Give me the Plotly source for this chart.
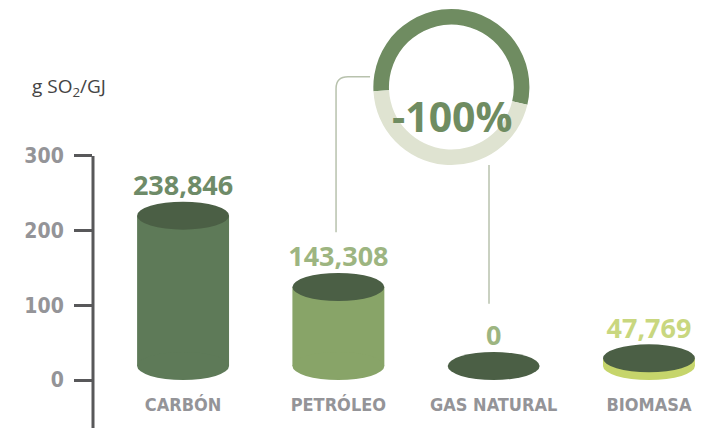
import plotly.graph_objects as go

# data
categories = ["CARBÓN", "PETRÓLEO", "GAS NATURAL", "BIOMASA"]
values = [238.846, 143.308, 0.0, 47.769]
value_labels = ["238,846", "143,308", "0", "47,769"]
y_ticks = [0, 100, 200, 300]
ring_values = [54.5, 45.5]
ring_label = "-100%"
unit_label = "g SO<sub>2</sub>/GJ"

BODY = ["#5e7a58", "#88a468", "#88a468", "#c6d56b"]
TOP = "#4b5f45"
LABEL_COL = ["#6e8b68", "#9db581", "#9db581", "#c9d77f"]
GRAY = "#949498"
AXIS = "#58585a"
NARROW = "DejaVu Sans Condensed, DejaVu Sans, sans-serif"
BOLD = "Open Sans, sans-serif"

RX = 0.296  # half width of cylinder, category units
RY = 18.75  # half height of the ellipse caps, y units
Y_RANGE = [-64.29, 498.2]

fig = go.Figure()

shapes = []
label_y = []
for i, v in enumerate(values):
    yb = RY
    yt = max(v - RY, RY)
    if yt > yb:
        shapes.append(dict(type="rect", xref="x", yref="y", x0=i - RX, x1=i + RX,
                           y0=yb, y1=yt, fillcolor=BODY[i], line_width=0, layer="below"))
        shapes.append(dict(type="circle", xref="x", yref="y", x0=i - RX, x1=i + RX,
                           y0=yb - RY, y1=yb + RY, fillcolor=BODY[i], line_width=0, layer="below"))
    shapes.append(dict(type="circle", xref="x", yref="y", x0=i - RX, x1=i + RX,
                       y0=yt - RY, y1=yt + RY, fillcolor=TOP, line_width=0, layer="below"))
    label_y.append(yt + RY)

# y axis line
shapes.append(dict(type="line", xref="paper", yref="y", x0=0, x1=0, y0=300, y1=Y_RANGE[0],
                   line=dict(color=AXIS, width=3)))
# connector lines to the ring
shapes.append(dict(type="path", xref="x", yref="y",
                   path="M 0.985,198 L 0.985,390 Q 0.985,406 1.062,406 L 1.204,406",
                   line=dict(color="#b8c2ad", width=1.5)))
shapes.append(dict(type="line", xref="x", yref="y", x0=1.97, x1=1.97, y0=288, y1=102,
                   line=dict(color="#b8c2ad", width=1.5)))

fig.add_trace(go.Scatter(
    x=list(range(len(categories))), y=label_y, mode="text", text=value_labels,
    textposition="top center", hoverinfo="skip",
    textfont=dict(family=BOLD, size=27, color=LABEL_COL, weight="bold"),
))
fig.add_trace(go.Scatter(
    x=list(range(len(categories))), y=[-35] * len(categories), mode="text", text=categories,
    textposition="middle center", hoverinfo="skip",
    textfont=dict(family=NARROW, size=18, color=GRAY, weight="bold"),
))
fig.add_trace(go.Pie(
    values=ring_values, hole=0.8, sort=False, direction="clockwise", rotation=-93,
    marker=dict(colors=["#6f8c61", "#dfe3d1"], line=dict(width=0)),
    textinfo="none", hoverinfo="skip", showlegend=False,
    domain=dict(x=[0.447, 0.698], y=[0.626, 0.9976]),
))

fig.add_annotation(x=0.5735, y=0.814, xref="paper", yref="paper", text=ring_label,
                   showarrow=False, font=dict(family=BOLD, size=41, color="#6f8c61", weight="bold"))
fig.add_annotation(x=-0.1, y=393, xref="paper", yref="y", text=unit_label, xanchor="left",
                   showarrow=False, font=dict(family=BOLD, size=19, color="#444444"))

# page body keeps its default 8px margin, so the figure is 8px smaller
fig.update_layout(
    width=711, height=420,
    margin=dict(l=85, r=0, t=0, b=0),
    paper_bgcolor="white", plot_bgcolor="white",
    showlegend=False,
    shapes=shapes,
    xaxis=dict(range=[-0.58, 3.451], visible=False, fixedrange=True),
    yaxis=dict(range=Y_RANGE, tickvals=y_ticks, ticks="outside", ticklen=18, tickwidth=3,
               tickcolor=AXIS, showgrid=False, zeroline=False, showline=False,
               ticklabelstandoff=6,
               tickfont=dict(family=NARROW, size=21, color=GRAY, weight="bold")),
)

fig.write_html("out.html")
